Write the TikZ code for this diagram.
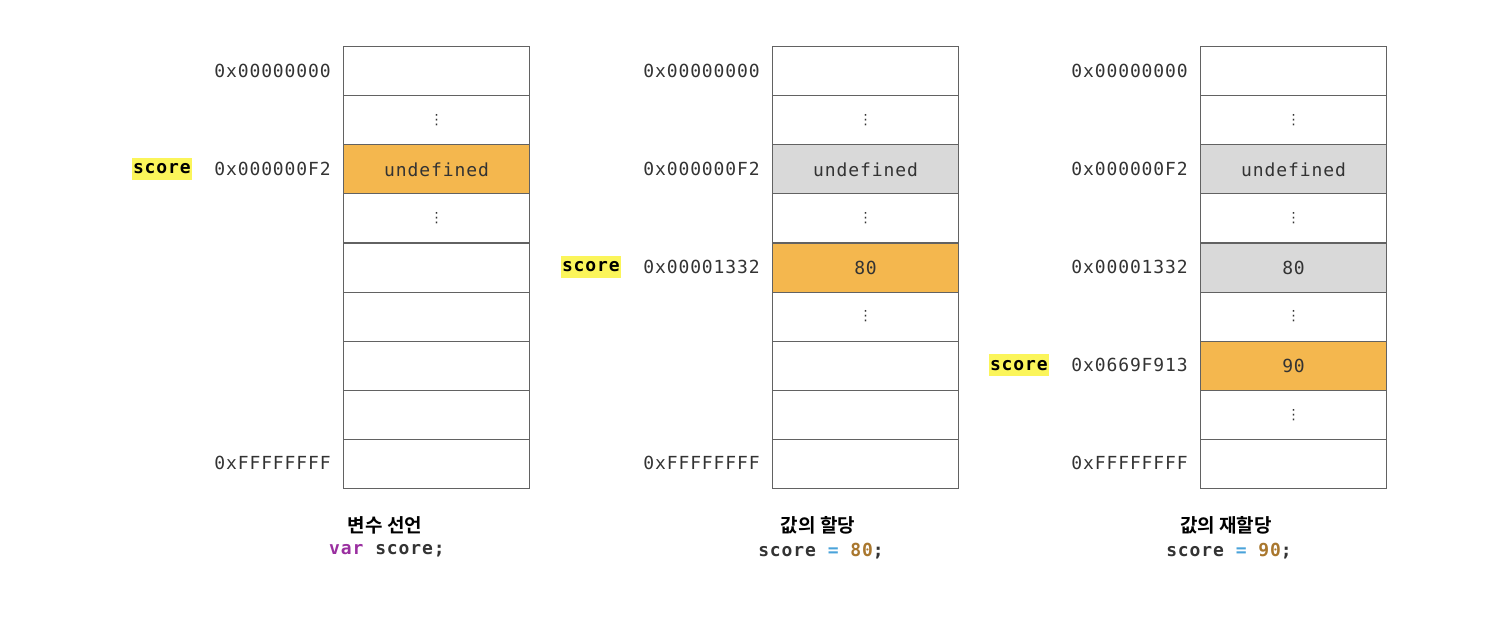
\documentclass[tikz,border=0pt]{standalone}
\usepackage{fontspec}
\newfontfamily\addrfont[LetterSpace=5]{DejaVu Sans Mono}
\newfontfamily\addrbold[LetterSpace=5]{DejaVu Sans Mono Bold}
\newfontfamily\krfont{Noto Sans CJK KR Bold}
\newfontfamily\dvfont{DejaVu Sans}
\definecolor{linegray}{HTML}{626262}
\definecolor{textgray}{HTML}{333333}
\definecolor{orangefill}{HTML}{F4B74E}
\definecolor{grayfill}{HTML}{D9D9D9}
\definecolor{hl}{HTML}{FBF55A}
\definecolor{kwpurple}{HTML}{9A2FA0}
\definecolor{opblue}{HTML}{4AA3DA}
\definecolor{numbrown}{HTML}{A9772E}
\newcommand\vd{{\dvfont\fontsize{14}{14}\selectfont ⋮}}
\tikzset{
  cell/.style={draw=linegray, line width=1.1pt, fill=white, minimum width=186pt,
    minimum height=49.1pt, inner sep=0pt, anchor=north west,
    font=\addrfont\fontsize{18}{18}\selectfont, text=textgray},
  plain/.style={},
  cur/.style={fill=orangefill},
  old/.style={fill=grayfill},
  addr/.style={anchor=east, inner sep=0pt, text=textgray,
    font=\addrfont\fontsize{18}{18}\selectfont},
  varlbl/.style={anchor=east, fill=hl, inner xsep=1pt, inner ysep=0pt,
    minimum height=22pt, text=black,
    font=\addrbold\fontsize{18}{18}\selectfont},
  captext/.style={inner sep=0pt, text=black, font=\krfont\fontsize{19}{19}\selectfont},
  codetext/.style={inner sep=0pt, text=textgray, font=\addrbold\fontsize{18}{18}\selectfont},
}
\begin{document}
\begin{tikzpicture}[x=1pt,y=-1pt]
\useasboundingbox (0,0) rectangle (1500,630);
% column 1
\foreach \r/\st/\tx in {0/plain/{},1/plain/\vd,2/cur/undefined,3/plain/\vd,4/plain/{},5/plain/{},6/plain/{},7/plain/{},8/plain/{}}
  \node[cell,\st] (a\r) at (343,{46+49.1*\r}) {\tx};
\node[addr] (aa0) at (331,{46+49.1*0.5}) {0x00000000};
\node[addr] (aa2) at (331,{46+49.1*2.5}) {0x000000F2};
\node[addr] (aa8) at (331,{46+49.1*8.5}) {0xFFFFFFFF};
\node[varlbl] (av) at (192,{46+49.1*2.5}) {score};
\node[captext] (acap) at (385,525) {변수 선언};
\node[codetext] (acode) at (387,551) {\textcolor{kwpurple}{var} score;};
% column 2
\foreach \r/\st/\tx in {0/plain/{},1/plain/\vd,2/old/undefined,3/plain/\vd,4/cur/80,5/plain/\vd,6/plain/{},7/plain/{},8/plain/{}}
  \node[cell,\st] (b\r) at (772,{46+49.1*\r}) {\tx};
\node[addr] (ba0) at (760,{46+49.1*0.5}) {0x00000000};
\node[addr] (ba2) at (760,{46+49.1*2.5}) {0x000000F2};
\node[addr] (ba4) at (760,{46+49.1*4.5}) {0x00001332};
\node[addr] (ba8) at (760,{46+49.1*8.5}) {0xFFFFFFFF};
\node[varlbl] (bv) at (621,{46+49.1*4.5}) {score};
\node[captext] (bcap) at (818,525) {값의 할당};
\node[codetext] (bcode) at (821,551) {score \textcolor{opblue}{=} \textcolor{numbrown}{80};};
% column 3
\foreach \r/\st/\tx in {0/plain/{},1/plain/\vd,2/old/undefined,3/plain/\vd,4/old/80,5/plain/\vd,6/cur/90,7/plain/\vd,8/plain/{}}
  \node[cell,\st] (c\r) at (1200,{46+49.1*\r}) {\tx};
\node[addr] (ca0) at (1188,{46+49.1*0.5}) {0x00000000};
\node[addr] (ca2) at (1188,{46+49.1*2.5}) {0x000000F2};
\node[addr] (ca4) at (1188,{46+49.1*4.5}) {0x00001332};
\node[addr] (ca6) at (1188,{46+49.1*6.5}) {0x0669F913};
\node[addr] (ca8) at (1188,{46+49.1*8.5}) {0xFFFFFFFF};
\node[varlbl] (cv) at (1049,{46+49.1*6.5}) {score};
\node[captext] (ccap) at (1226,525) {값의 재할당};
\node[codetext] (ccode) at (1229,551) {score \textcolor{opblue}{=} \textcolor{numbrown}{90};};
\end{tikzpicture}
\end{document}
